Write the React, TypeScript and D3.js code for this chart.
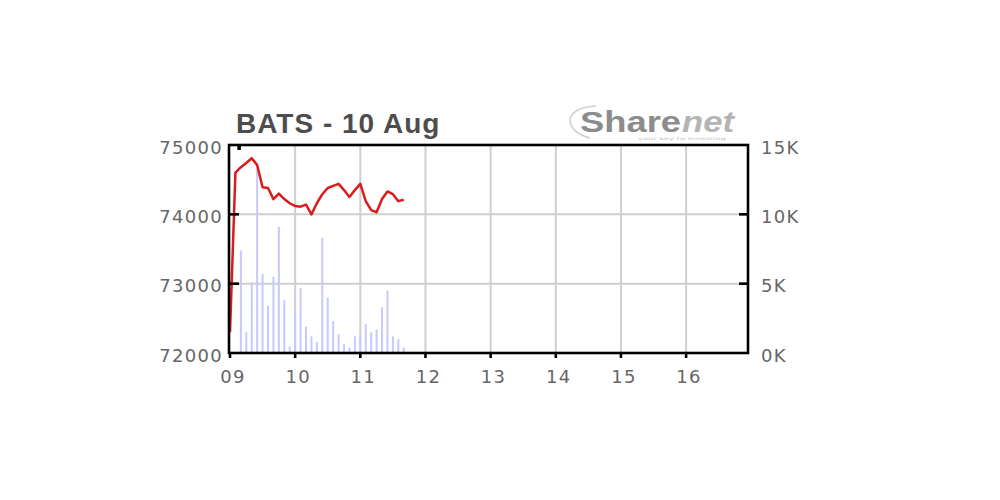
import { useEffect, useRef } from "react";
import * as d3 from "d3";

const title = "BATS - 10 Aug";
const hourTicks = [9, 10, 11, 12, 13, 14, 15, 16];
const hourLabels = ["09", "10", "11", "12", "13", "14", "15", "16"];
const priceTicks = [72000, 73000, 74000, 75000];
const volumeTicks = [0, 5000, 10000, 15000];

const priceTimes = [
  "09:00", "09:05", "09:10", "09:15", "09:20", "09:25", "09:30", "09:35", "09:40", "09:45", "09:50", "09:55",
  "10:00", "10:05", "10:10", "10:15", "10:20", "10:25", "10:30", "10:35", "10:40", "10:45", "10:50", "10:55",
  "11:00", "11:05", "11:10", "11:15", "11:20", "11:25", "11:30", "11:35", "11:40",
];
const prices = [
  72300, 74600, 74680, 74740, 74810, 74710, 74390, 74380, 74220, 74300, 74220, 74160,
  74120, 74110, 74140, 74000, 74160, 74290, 74380, 74410, 74440, 74350, 74250, 74350,
  74440, 74190, 74060, 74030, 74220, 74330, 74290, 74190, 74210,
];

const volumeTimes = [
  "09:10", "09:15", "09:20", "09:25", "09:30", "09:35", "09:40", "09:45", "09:50", "09:55",
  "10:00", "10:05", "10:10", "10:15", "10:20", "10:25", "10:30", "10:35", "10:40", "10:45", "10:50", "10:55",
  "11:00", "11:05", "11:10", "11:15", "11:20", "11:25", "11:30", "11:35", "11:40",
];
const volumes = [
  7400, 1500, 5100, 13300, 5700, 3400, 5500, 9100, 3800, 450,
  2900, 4700, 1900, 1200, 800, 8300, 4000, 2300, 1350, 630, 380, 1200,
  1350, 2100, 1500, 1700, 3300, 4500, 1200, 1000, 400,
];

const toHour = (t: string) => {
  const [h, m] = t.split(":").map(Number);
  return h + m / 60;
};

const App = () => {
  const svgRef = useRef<SVGSVGElement>(null);
  const width = 1000;
  const height = 500;
  const plot = { left: 229, right: 748, top: 145, bottom: 353 };

  useEffect(() => {
    const svg = d3.select(svgRef.current);
    svg.selectAll("*").remove();

    const xScale = d3.scaleLinear().domain([9, 16.95]).range([230, plot.right]);
    const yScale = d3.scaleLinear().domain([72000, 75000]).range([plot.bottom, plot.top]);
    const vScale = d3.scaleLinear().domain([0, 15000]).range([plot.bottom, plot.top]);

    const labelFont = "'DejaVu Sans', Verdana, sans-serif";
    const labelColor = "#666";

    // grid
    const grid = svg.append("g").attr("stroke", "#cfcfcf").attr("stroke-width", 2);
    grid
      .selectAll("line.v")
      .data(hourTicks.slice(1))
      .enter()
      .append("line")
      .attr("x1", (d) => xScale(d))
      .attr("x2", (d) => xScale(d))
      .attr("y1", plot.top)
      .attr("y2", plot.bottom);
    grid
      .selectAll("line.h")
      .data(priceTicks.slice(1, -1))
      .enter()
      .append("line")
      .attr("x1", plot.left)
      .attr("x2", plot.right)
      .attr("y1", (d) => yScale(d))
      .attr("y2", (d) => yScale(d));

    // volume bars
    svg
      .append("g")
      .selectAll("rect")
      .data(volumes)
      .enter()
      .append("rect")
      .attr("x", (d, i) => xScale(toHour(volumeTimes[i])) - 1)
      .attr("width", 2)
      .attr("y", (d) => vScale(d))
      .attr("height", (d) => plot.bottom - vScale(d))
      .attr("fill", "#c8c8ff");

    // price line
    const line = d3
      .line<number>()
      .x((d, i) => xScale(toHour(priceTimes[i])))
      .y((d) => yScale(d));
    svg
      .append("path")
      .datum(prices)
      .attr("d", line)
      .attr("fill", "none")
      .attr("stroke", "#d91c1c")
      .attr("stroke-width", 2.5)
      .attr("stroke-linejoin", "round");

    // frame
    svg
      .append("rect")
      .attr("x", plot.left)
      .attr("y", plot.top)
      .attr("width", plot.right - plot.left)
      .attr("height", plot.bottom - plot.top)
      .attr("fill", "none")
      .attr("stroke", "#000")
      .attr("stroke-width", 2.6);

    // ticks
    const ticks = svg.append("g").attr("stroke", "#000").attr("stroke-width", 2.6);
    ticks
      .selectAll("line.l")
      .data(priceTicks.slice(1, -1))
      .enter()
      .append("line")
      .attr("x1", plot.left)
      .attr("x2", plot.left + 10)
      .attr("y1", (d) => yScale(d))
      .attr("y2", (d) => yScale(d));
    ticks
      .selectAll("line.r")
      .data(volumeTicks.slice(1, -1))
      .enter()
      .append("line")
      .attr("x1", plot.right - 9)
      .attr("x2", plot.right)
      .attr("y1", (d) => vScale(d))
      .attr("y2", (d) => vScale(d));
    ticks
      .selectAll("line.b")
      .data(hourTicks)
      .enter()
      .append("line")
      .attr("x1", (d) => xScale(d))
      .attr("x2", (d) => xScale(d))
      .attr("y1", plot.bottom)
      .attr("y2", plot.bottom + 5);
    ticks
      .append("line")
      .attr("x1", xScale(9.14))
      .attr("x2", xScale(9.14))
      .attr("y1", plot.top)
      .attr("y2", plot.top + 5)
      .attr("stroke-width", 3.5);

    // left axis labels
    svg
      .append("g")
      .selectAll("text")
      .data(priceTicks)
      .enter()
      .append("text")
      .attr("x", 223)
      .attr("y", (d) => yScale(d) + 8.5)
      .attr("text-anchor", "end")
      .style("font-family", labelFont)
      .style("font-size", "18px")
      .style("letter-spacing", "1.3px")
      .attr("fill", labelColor)
      .text((d) => String(d));

    // right axis labels
    svg
      .append("g")
      .selectAll("text")
      .data(volumeTicks)
      .enter()
      .append("text")
      .attr("x", 761)
      .attr("y", (d) => vScale(d) + 8.5)
      .style("font-family", labelFont)
      .style("font-size", "18px")
      .style("letter-spacing", "1.3px")
      .attr("fill", labelColor)
      .text((d) => `${d / 1000}K`);

    // bottom labels
    svg
      .append("g")
      .selectAll("text")
      .data(hourTicks)
      .enter()
      .append("text")
      .attr("x", (d) => xScale(d) + 3)
      .attr("y", 383)
      .attr("text-anchor", "middle")
      .style("font-family", labelFont)
      .style("font-size", "18px")
      .style("letter-spacing", "1.3px")
      .attr("fill", labelColor)
      .text((d, i) => hourLabels[i]);

    // title
    svg
      .append("text")
      .attr("x", 236)
      .attr("y", 133)
      .style("font-family", "'Liberation Sans', Arial, sans-serif")
      .style("font-weight", "bold")
      .style("font-size", "28px")
      .style("letter-spacing", "1px")
      .attr("fill", "#4d4d4d")
      .text(title);

    // logo
    const logo = svg.append("g");
    logo
      .append("path")
      .attr("d", "M596,106 C574,107 566,117 572,127 C575,132 582,136 590,138")
      .attr("fill", "none")
      .attr("stroke", "#d0d0d0")
      .attr("stroke-width", 1.5);
    logo
      .append("text")
      .attr("x", 580)
      .attr("y", 132)
      .attr("textLength", 101)
      .attr("lengthAdjust", "spacingAndGlyphs")
      .style("font-family", "'Liberation Sans', Arial, sans-serif")
      .style("font-size", "30px")
      .style("font-weight", "bold")
      .attr("fill", "#8c8c8c")
      .text("Share");
    logo
      .append("text")
      .attr("x", 682)
      .attr("y", 132)
      .attr("textLength", 52)
      .attr("lengthAdjust", "spacingAndGlyphs")
      .style("font-family", "'Liberation Sans', Arial, sans-serif")
      .style("font-size", "30px")
      .style("font-weight", "bold")
      .style("font-style", "italic")
      .attr("fill", "#b4b4b4")
      .text("net");
    logo
      .append("text")
      .attr("x", 638)
      .attr("y", 140)
      .attr("textLength", 88)
      .attr("lengthAdjust", "spacingAndGlyphs")
      .style("font-family", "'DejaVu Sans', sans-serif")
      .style("font-size", "4px")
      .attr("fill", "#c0c0c0")
      .text("your key to investing");
  }, []);

  return (
    <svg
      ref={svgRef}
      width={width}
      height={height}
      viewBox={`0 0 ${width} ${height}`}
      style={{ position: "absolute", left: 0, top: 0, background: "#fff", display: "block" }}
    ></svg>
  );
};

export default App;
